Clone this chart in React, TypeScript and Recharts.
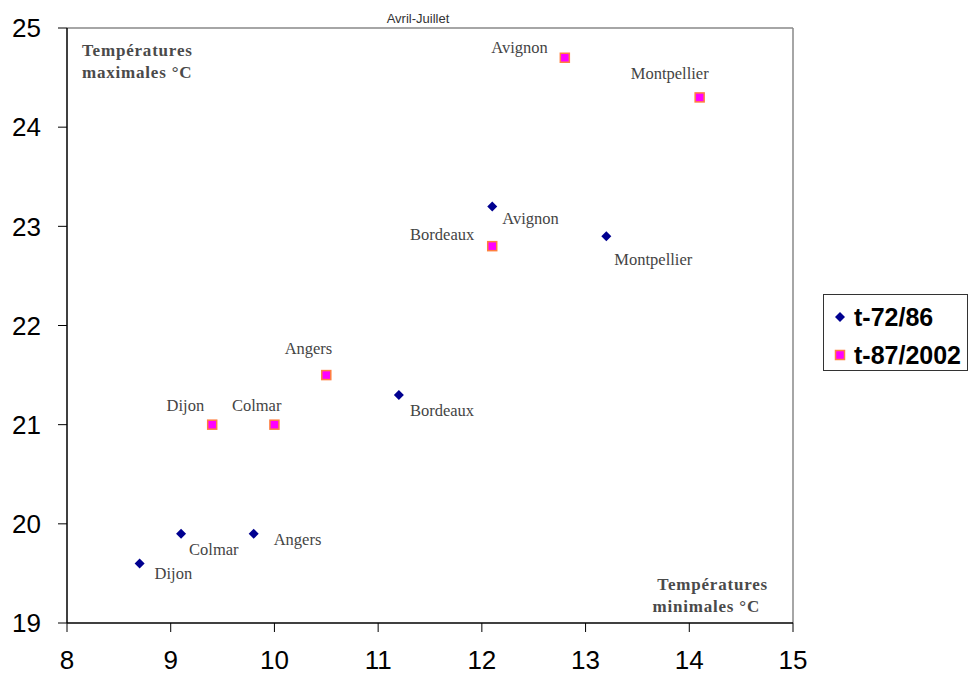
import React from "react";
import { ScatterChart, Scatter, XAxis, YAxis, ReferenceLine, Legend, Customized } from "recharts";

const cities = ["Dijon", "Colmar", "Angers", "Bordeaux", "Avignon", "Montpellier"];
const minT_72_86 = [8.7, 9.1, 9.8, 11.2, 12.1, 13.2];
const maxT_72_86 = [19.6, 19.9, 19.9, 21.3, 23.2, 22.9];
const minT_87_2002 = [9.4, 10.0, 10.5, 12.1, 12.8, 14.1];
const maxT_87_2002 = [21.0, 21.0, 21.5, 22.8, 24.7, 24.3];
const xTicks = [8, 9, 10, 11, 12, 13, 14, 15];
const yTicks = [19, 20, 21, 22, 23, 24, 25];
const seriesNames = ["t-72/86", "t-87/2002"];

const data1 = cities.map((c, i) => ({ city: c, x: minT_72_86[i], y: maxT_72_86[i] }));
const data2 = cities.map((c, i) => ({ city: c, x: minT_87_2002[i], y: maxT_87_2002[i] }));

// label placement (style only)
const offsets1: Record<string, [number, number, string]> = {
  Dijon: [15, 15, "start"],
  Colmar: [8, 21, "start"],
  Angers: [20, 11, "start"],
  Bordeaux: [11, 21, "start"],
  Avignon: [10, 17, "start"],
  Montpellier: [8, 29, "start"],
};
const offsets2: Record<string, [number, number, string]> = {
  Dijon: [-8, -14, "end"],
  Colmar: [7, -14, "end"],
  Angers: [6, -21, "end"],
  Bordeaux: [-18, -6, "end"],
  Avignon: [-17, -5, "end"],
  Montpellier: [9, -18, "end"],
};

const NAVY = "#000090";
const PINK = "#FF00FF";
const ORANGE = "#FF7F3F";
const LABEL_COLOR = "#444";
const SERIF = "'Liberation Serif', 'Times New Roman', serif";
const SANS = "'Liberation Sans', Arial, sans-serif";

const Diamond = ({ cx, cy }: { cx: number; cy: number }) => (
  <path d={`M${cx},${cy - 5} L${cx + 5},${cy} L${cx},${cy + 5} L${cx - 5},${cy} Z`} fill={NAVY} />
);
const Square = ({ cx, cy }: { cx: number; cy: number }) => (
  <rect x={cx - 4.5} y={cy - 4.5} width={9} height={9} fill={PINK} stroke={ORANGE} strokeWidth={1.5} />
);

const makeShape = (kind: number) => (props: any) => {
  const { cx, cy, payload } = props;
  const off = (kind === 0 ? offsets1 : offsets2)[payload.city];
  return (
    <g>
      {kind === 0 ? <Diamond cx={cx} cy={cy} /> : <Square cx={cx} cy={cy} />}
      <text
        x={cx + off[0]}
        y={cy + off[1]}
        textAnchor={off[2] as any}
        fontFamily={SERIF}
        fontSize={16.5}
        fill={LABEL_COLOR}
      >
        {payload.city}
      </text>
    </g>
  );
};

const Annotations = () => (
  <g>
    <text x={418} y={23} textAnchor="middle" fontFamily={SANS} fontSize={13} fill="#333">
      Avril-Juillet
    </text>
    <text x={82} y={56} fontFamily={SERIF} fontSize={17} fontWeight="bold" fill="#4a4a4a" letterSpacing={0.8}>
      Températures
    </text>
    <text x={82} y={78} fontFamily={SERIF} fontSize={17} fontWeight="bold" fill="#4a4a4a" letterSpacing={0.8}>
      maximales °C
    </text>
    <text x={768} y={590} textAnchor="end" fontFamily={SERIF} fontSize={17} fontWeight="bold" fill="#4a4a4a" letterSpacing={0.8}>
      Températures
    </text>
    <text x={760} y={612} textAnchor="end" fontFamily={SERIF} fontSize={17} fontWeight="bold" fill="#4a4a4a" letterSpacing={0.8}>
      minimales °C
    </text>
  </g>
);

const LegendContent = () => (
  <div
    style={{
      width: 145,
      height: 77,
      border: "1.5px solid #333",
      boxSizing: "border-box",
      background: "#fff",
    }}
  >
    <svg width={142} height={74} style={{ display: "block" }}>
      <Diamond cx={16} cy={22} />
      <text x={30} y={31} fontFamily={SANS} fontWeight="bold" fontSize={25} fill="#000">
        {seriesNames[0]}
      </text>
      <Square cx={16} cy={60} />
      <text x={30} y={69} fontFamily={SANS} fontWeight="bold" fontSize={25} fill="#000">
        {seriesNames[1]}
      </text>
    </svg>
  </div>
);

export default function App() {
  return (
    <div style={{ position: "absolute", left: 0, top: 0, background: "#fff" }}>
      <ScatterChart width={974} height={676} margin={{ top: 28, right: 36, bottom: 0, left: 0 }}>
        <XAxis
          type="number"
          dataKey="x"
          domain={[8, 15]}
          ticks={xTicks}
          tickSize={9}
          tickMargin={19}
          stroke="#000"
          axisLine={{ stroke: "#000", strokeWidth: 1.5 }}
          tickLine={{ stroke: "#000" }}
          tick={{ fill: "#000", fontSize: 26, fontFamily: SANS }}
          height={53}
        />
        <YAxis
          type="number"
          dataKey="y"
          domain={[19, 25]}
          ticks={yTicks}
          tickSize={9}
          tickMargin={17}
          stroke="#000"
          axisLine={{ stroke: "#000", strokeWidth: 1.5 }}
          tickLine={{ stroke: "#000" }}
          tick={{ fill: "#000", fontSize: 26, fontFamily: SANS }}
          width={67}
        />
        <ReferenceLine y={25} stroke="#888" strokeWidth={1.5} />
        <ReferenceLine x={15} stroke="#888" strokeWidth={1.5} />
        <Scatter name={seriesNames[0]} data={data1} shape={makeShape(0)} isAnimationActive={false} />
        <Scatter name={seriesNames[1]} data={data2} shape={makeShape(1)} isAnimationActive={false} />
        <Customized component={Annotations} />
        <Legend
          layout="vertical"
          align="right"
          verticalAlign="middle"
          content={<LegendContent />}
          wrapperStyle={{ position: "absolute", left: 823, top: 294, width: 145, height: 77 }}
        />
      </ScatterChart>
    </div>
  );
}
